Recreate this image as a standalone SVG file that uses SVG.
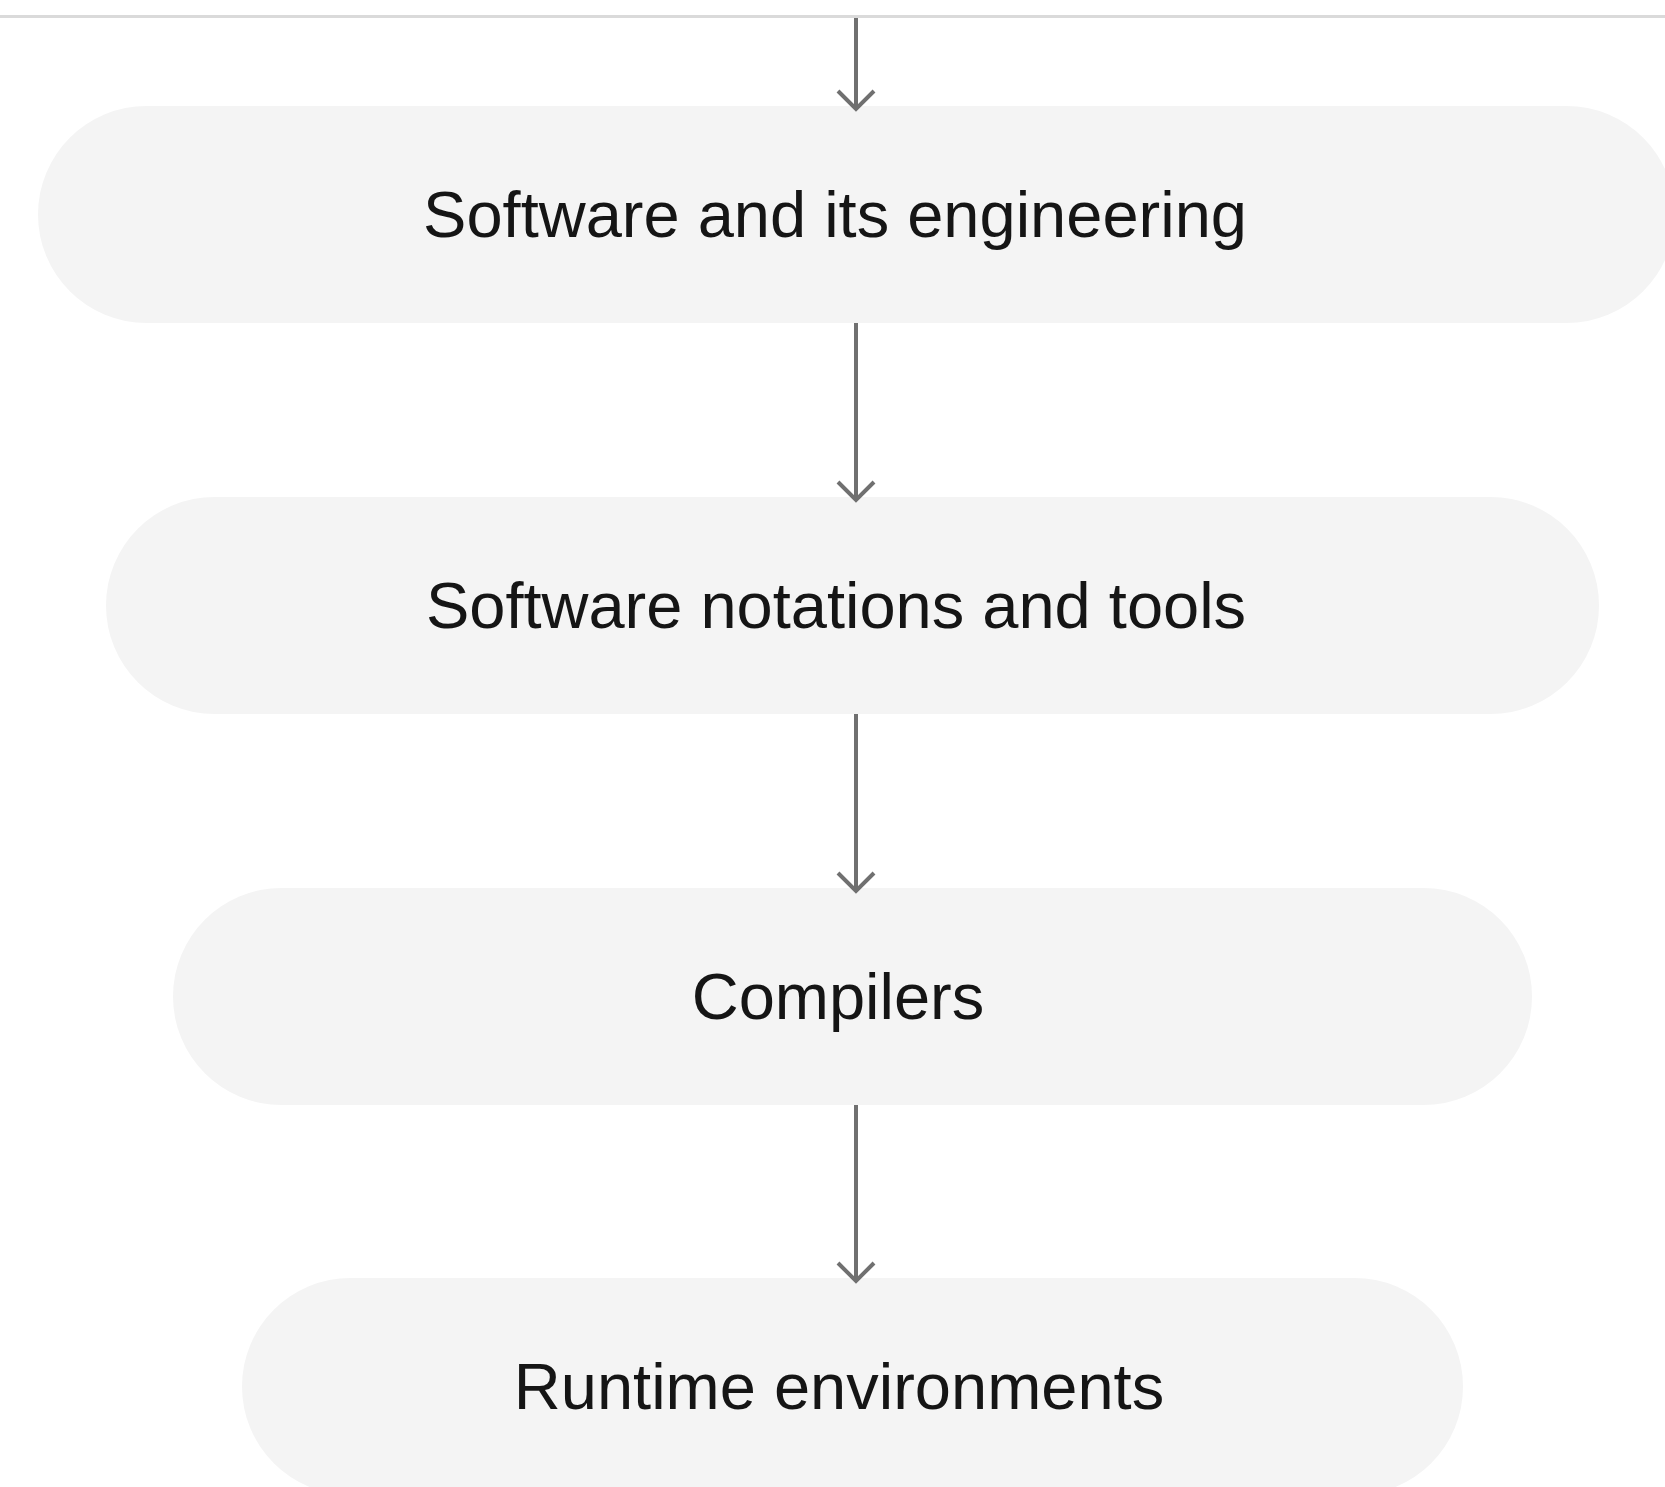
<svg xmlns="http://www.w3.org/2000/svg" width="1665" height="1487" viewBox="0 0 1665 1487">
  <style>
    .node { fill: #f4f4f4; }
    .label { font-family: "Liberation Sans", Arial, sans-serif; font-size: 65px; fill: #151515; text-anchor: middle; }
    .edge { stroke: #707070; stroke-width: 4; fill: none; }
  </style>
  <defs>
    <marker id="chev" markerUnits="userSpaceOnUse" markerWidth="44" markerHeight="44" viewBox="-22 -22 44 44" refX="0" refY="0" orient="auto" overflow="visible">
      <path d="M -18 -18 L 0 0 L -18 18" fill="none" stroke="#707070" stroke-width="4" stroke-linejoin="miter"/>
    </marker>
  </defs>
  <rect width="1665" height="1487" fill="#ffffff"/>
  <line x1="0" y1="16.5" x2="1665" y2="16.5" stroke="#dadada" stroke-width="3"/>

  <g id="node-software-engineering">
    <rect class="node" x="38" y="106" width="1637" height="217" rx="108.5" ry="108.5"/>
    <text class="label" x="835" y="237">Software and its engineering</text>
  </g>
  <g id="node-notations-tools">
    <rect class="node" x="106" y="497" width="1493" height="217" rx="108.5" ry="108.5"/>
    <text class="label" x="836" y="628">Software notations and tools</text>
  </g>
  <g id="node-compilers">
    <rect class="node" x="173" y="888" width="1359" height="217" rx="108.5" ry="108.5"/>
    <text class="label" x="838" y="1019">Compilers</text>
  </g>
  <g id="node-runtime">
    <rect class="node" x="242" y="1278" width="1221" height="217" rx="108.5" ry="108.5"/>
    <text class="label" x="839" y="1409">Runtime environments</text>
  </g>

  <g id="connectors">
    <line class="edge" x1="856" y1="18" x2="856" y2="109" marker-end="url(#chev)"/>
    <line class="edge" x1="856" y1="323" x2="856" y2="500" marker-end="url(#chev)"/>
    <line class="edge" x1="856" y1="714" x2="856" y2="891" marker-end="url(#chev)"/>
    <line class="edge" x1="856" y1="1105" x2="856" y2="1281" marker-end="url(#chev)"/>
  </g>
</svg>
